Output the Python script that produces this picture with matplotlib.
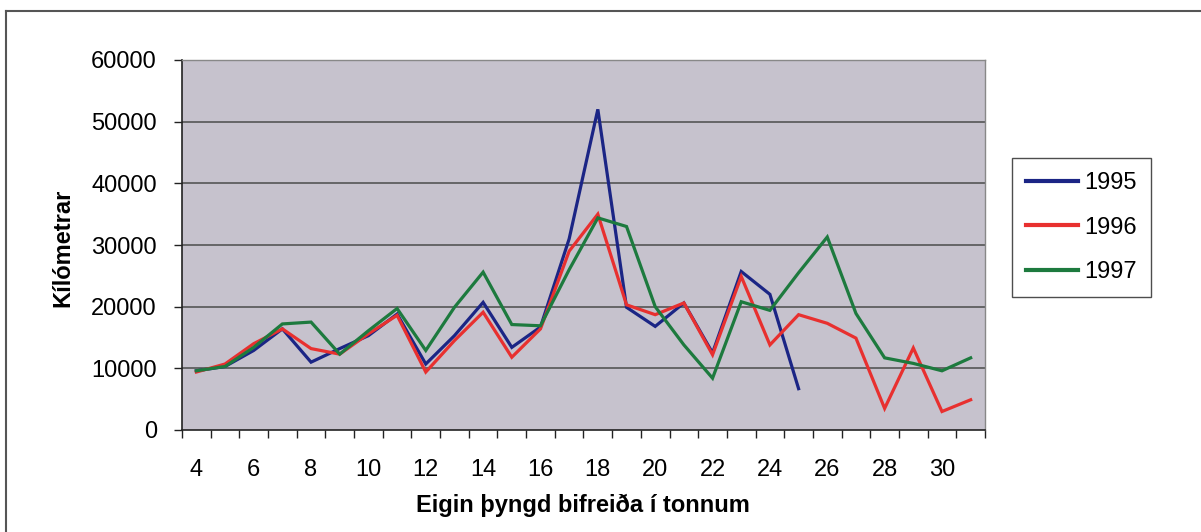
import matplotlib
matplotlib.use("Agg")
import matplotlib.pyplot as plt
from matplotlib.lines import Line2D
import numpy as np

plt.rcParams["font.family"] = ["Liberation Sans", "DejaVu Sans"]

# ── Data: eigin þyngd (tonn) vs. kílómetrar ──────────────────────────────────
weights = list(range(4, 32))
km_1995 = [9600, 10300, 12900, 16400, 11000, 13200, 15300, 18800, 10700, 15300,
           20700, 13400, 16700, 31000, 52000, 19900, 16800, 20600, 12500, 25700,
           22000, 6700, np.nan, np.nan, np.nan, np.nan, np.nan, np.nan]
km_1996 = [9400, 10700, 14000, 16400, 13200, 12300, 15600, 18600, 9400, 14500,
           19100, 11800, 16400, 29000, 35000, 20300, 18700, 20600, 12200, 24900,
           13800, 18700, 17300, 14900, 3500, 13300, 3000, 4900]
km_1997 = [9600, 10300, 13400, 17200, 17500, 12300, 16100, 19700, 12900, 19900,
           25600, 17100, 16900, 26000, 34400, 33000, 20000, 13800, 8400, 20800,
           19400, 25500, 31300, 18900, 11700, 10800, 9600, 11700]
series = [("1995", km_1995, "#1b2585"), ("1996", km_1996, "#e8302f"),
          ("1997", km_1997, "#1d7a3e")]
y_ticks = [0, 10000, 20000, 30000, 40000, 50000, 60000]
x_labels = list(range(4, 31, 2))

W, H = 1201, 532
fig = plt.figure(figsize=(W / 100, H / 100), dpi=100)
fig.patch.set_facecolor("white")
ax = fig.add_axes([182 / W, 1 - 430 / H, (985 - 182) / W, (430 - 60) / H])
ax.set_facecolor("#c6c2cd")

for y in y_ticks[1:]:
    ax.axhline(y, color="#555555", lw=1.2, zorder=1)

for name, vals, col in series:
    ax.plot(weights, vals, color=col, lw=2.3, label=name, zorder=3,
            solid_joinstyle="miter")

ax.set_xlim(3.5, 31.5)
ax.set_ylim(0, 60000)
ax.set_yticks(y_ticks)
ax.set_yticklabels([str(v) for v in y_ticks])
ax.set_xticks(x_labels)
ax.set_xticklabels([str(v) for v in x_labels])
ax.set_xticks(np.arange(3.5, 32, 1), minor=True)
ax.tick_params(axis="x", which="major", length=0, pad=21, labelsize=17)
ax.tick_params(axis="x", which="minor", length=6, width=1, color="#222", direction="out")
ax.tick_params(axis="y", which="major", length=6, width=1, color="#222", pad=12,
               labelsize=17, direction="out")

for s in ("left", "bottom"):
    ax.spines[s].set_color("#222")
    ax.spines[s].set_linewidth(1.2)
for s in ("top", "right"):
    ax.spines[s].set_color("#888888")
    ax.spines[s].set_linewidth(1.0)

fig.text(583 / W, 1 - 512 / H, "Eigin þyngd bifreiða í tonnum", ha="center",
         va="baseline", fontsize=17, fontweight="bold")
fig.text(63 / W, 1 - 248 / H, "Kílómetrar", ha="center", va="center",
         rotation=90, fontsize=17, fontweight="bold")

handles = [Line2D([0], [0], color=c, lw=3) for _, _, c in series]
leg = ax.legend(handles, [n for n, _, _ in series], loc="upper left",
                bbox_to_anchor=(1012 / W, 1 - 158 / H), bbox_transform=fig.transFigure,
                borderaxespad=0, fontsize=17, frameon=True, fancybox=False,
                handlelength=2.2, handletextpad=0.25, labelspacing=0.95,
                borderpad=0.6)
leg.get_frame().set_edgecolor("#222")
leg.get_frame().set_linewidth(1.0)

# outer chart border (top and left visible)
fig.add_artist(Line2D([6 / W, 1], [1 - 10.5 / H, 1 - 10.5 / H],
                      transform=fig.transFigure, color="#555", lw=1.5))
fig.add_artist(Line2D([6 / W, 6 / W], [0, 1 - 10.5 / H],
                      transform=fig.transFigure, color="#555", lw=1.5))

fig.savefig("out.png", dpi=100, facecolor="white")
